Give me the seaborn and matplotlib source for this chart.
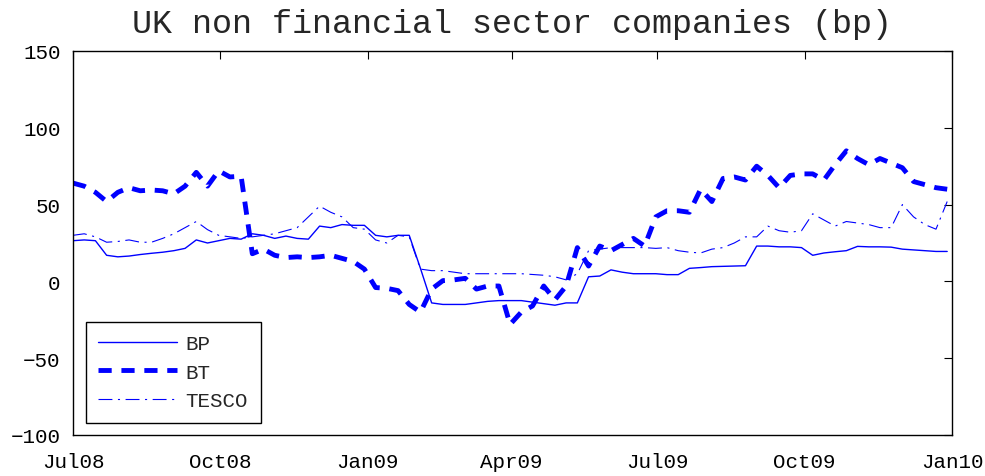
"""UK non financial sector companies CDS spreads (bp), MATLAB-style figure."""

import matplotlib
matplotlib.use("Agg")
import matplotlib.pyplot as plt
import matplotlib.dates as mdates
import numpy as np
import pandas as pd
import seaborn as sns

# weekly observations, Jul 2008 .. Dec 2009
dates = pd.date_range("2008-07-01", periods=79, freq="7D")

bp = [26.5, 27, 26.5, 17, 16, 16.5, 17.5, 18.3, 19, 20,
      21.5, 27, 25, 26.5, 28, 27.5, 31, 30, 28, 29.5,
      28, 27.5, 36, 35, 37, 36.5, 36.5, 30, 29, 30,
      30, 8.5, -14, -15, -15, -15, -14, -13, -12.5, -12.5,
      -12.5, -13.5, -14.5, -15.5, -14, -14, 3, 3.5, 7.5, 6,
      5, 5, 5, 4.4, 4.4, 8.5, 9, 9.6, 9.8, 10,
      10.2, 23, 23, 22.5, 22.5, 22, 17, 18.5, 19.3, 20,
      22.8, 22.5, 22.5, 22.3, 21, 20.5, 20, 19.5, 19.5]

bt = [64, 62, 58, 52, 58, 61, 59, 59.5, 59, 57,
      62, 71, 62, 72, 68, 68.5, 18, 21, 17, 15.5,
      16, 15.5, 16, 17, 15, 13, 8, -4, -4.5, -6,
      -15, -20, -5, 0.5, 1, 2, -5, -3, -3, -28,
      -20, -16, -3, -12, -3, 22, 10, 23, 20, 24,
      28, 23, 42, 46, 46, 45, 60, 52, 67, 68,
      66, 75, 69, 61, 69, 70, 70, 66, 76, 85,
      80, 76, 80, 77, 74, 65, 63, 61, 60]

tesco = [30, 31, 29, 25.5, 26, 27, 25.5, 25.5, 28, 31,
         35, 39, 33.7, 30, 29, 28, 29, 30, 31, 33,
         35, 42, 49, 45, 42, 35, 34, 27, 25, 30,
         29, 8, 7, 7, 6, 5, 5, 5, 5, 5,
         5, 4.5, 4, 3, 1, 5, 20, 21, 22, 22,
         22, 22, 21.5, 22, 20, 19, 18.5, 21, 22, 25,
         29, 29, 36, 33, 32, 33, 44, 40, 36, 39,
         38, 37, 35, 35, 50, 42, 37, 34, 52]

tick_dates = pd.to_datetime(["2008-07-01", "2008-10-01", "2009-01-01",
                             "2009-04-01", "2009-07-01", "2009-10-01",
                             "2010-01-01"])
y_ticks = [-100, -50, 0, 50, 100, 150]

sns.set_style("white")
plt.rcParams["font.family"] = ["Liberation Mono", "DejaVu Sans Mono"]
plt.rcParams["lines.scale_dashes"] = False

fig = plt.figure(figsize=(9.85, 4.77), dpi=100)
ax = fig.add_axes([73 / 985, 41 / 477, 879 / 985, 384 / 477])

sns.lineplot(x=dates, y=bp, ax=ax, color="blue", linewidth=1.0, label="BP")
sns.lineplot(x=dates, y=bt, ax=ax, color="blue", linewidth=3.5,
             linestyle=(0, (9.5, 7)), label="BT")
sns.lineplot(x=dates, y=tesco, ax=ax, color="blue", linewidth=0.8,
             linestyle=(0, (10, 4, 1.5, 4)), label="TESCO")

ax.set_xlim(tick_dates[0], tick_dates[-1])
ax.set_ylim(-100, 150)
ax.set_xticks(tick_dates)
ax.xaxis.set_major_formatter(mdates.DateFormatter("%b%y"))
ax.set_yticks(y_ticks)
ax.tick_params(direction="in", length=6, width=0.8, labelsize=15,
               top=True, right=True, colors="black")
ax.tick_params(axis="x", pad=12)
ax.tick_params(axis="y", pad=9)
for s in ax.spines.values():
    s.set_color("black")
    s.set_linewidth(1.0)
    s.set_visible(True)

ax.set_xlabel("")
ax.set_ylabel("")
ax.set_title("UK non financial sector companies (bp)", fontsize=24, pad=14)

leg = ax.legend(loc="lower left", fontsize=15, handlelength=3.8,
                handletextpad=0.4, fancybox=False, framealpha=1,
                borderaxespad=0.6, labelspacing=0.45, borderpad=0.6)
leg.get_frame().set_edgecolor("black")
leg.get_frame().set_linewidth(1.0)

plt.savefig("out.png", dpi=100)
plt.close()
